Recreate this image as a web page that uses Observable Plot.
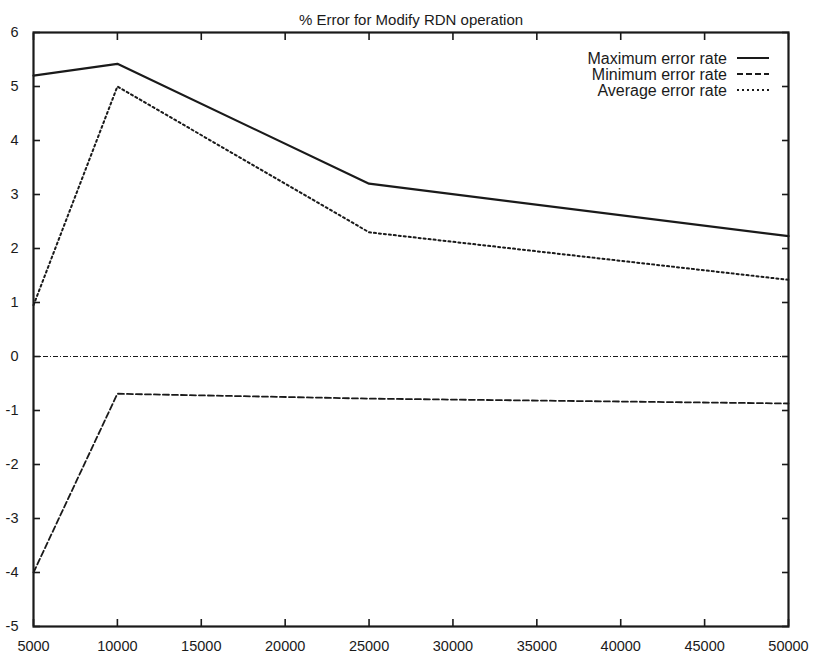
<!DOCTYPE html>
<html>
<head>
<meta charset="utf-8">
<script src="https://cdn.jsdelivr.net/npm/d3@7"></script>
<script src="https://cdn.jsdelivr.net/npm/@observablehq/plot@0.6"></script>
<style>
  html, body { margin: 0; padding: 0; background: #fff; }
  #chart svg { display: block; }
  #chart g[aria-label="x-axis tick label"], #chart g[aria-label="y-axis tick label"] { font-size: 14.5px; }
</style>
</head>
<body>
<div id="chart"></div>
<script>
const titleText = "% Error for Modify RDN operation";
const entries = [5000, 10000, 25000, 50000];
const maxErr = [5.2, 5.42, 3.2, 2.23];
const minErr = [-4.0, -0.69, -0.78, -0.87];
const avgErr = [0.95, 5.0, 2.3, 1.42];
const xTicks = [5000, 10000, 15000, 20000, 25000, 30000, 35000, 40000, 45000, 50000];
const yTicks = [-5, -4, -3, -2, -1, 0, 1, 2, 3, 4, 5, 6];
const seriesNames = ["Maximum error rate", "Minimum error rate", "Average error rate"];
const seriesDash = [null, "6,3", "2,3"];

const rows = (vals) => entries.map((x, i) => ({x, y: vals[i]}));
const ink = "#1a1a1a";
const font = "'Liberation Sans', Arial, sans-serif";

const plot = Plot.plot({
  width: 817,
  height: 657,
  marginLeft: 33,
  marginRight: 29,
  marginTop: 32,
  marginBottom: 31,
  style: {fontFamily: font, fontSize: "14px", color: ink, background: "#fff"},
  x: {domain: [5000, 50000], label: null},
  y: {domain: [-5, 6], label: null},
  marks: [
    Plot.ruleY([0], {stroke: ink, strokeWidth: 1.2, strokeDasharray: "5,2,1,2"}),
    Plot.line(rows(maxErr), {x: "x", y: "y", stroke: ink, strokeWidth: 2.2}),
    Plot.line(rows(minErr), {x: "x", y: "y", stroke: ink, strokeWidth: 1.8, strokeDasharray: seriesDash[1]}),
    Plot.line(rows(avgErr), {x: "x", y: "y", stroke: ink, strokeWidth: 2, strokeDasharray: seriesDash[2]}),
    // inward tick marks (gnuplot style, mirrored on all sides)
    Plot.axisX({ticks: xTicks, anchor: "bottom", tickSize: 7, dy: -7, text: null, stroke: ink, strokeWidth: 1.6}),
    Plot.axisX({ticks: xTicks, anchor: "top", tickSize: 7, dy: 7, text: null, stroke: ink, strokeWidth: 1.6}),
    Plot.axisY({ticks: yTicks, anchor: "left", tickSize: 7, dx: 7, text: null, stroke: ink, strokeWidth: 1.6}),
    Plot.axisY({ticks: yTicks, anchor: "right", tickSize: 7, dx: -7, text: null, stroke: ink, strokeWidth: 1.6}),
    Plot.axisX({ticks: xTicks, anchor: "bottom", tickSize: 0, tickPadding: 14, tickFormat: d => String(d), fill: ink}),
    Plot.axisY({ticks: yTicks, anchor: "left", tickSize: 0, tickPadding: 15, tickFormat: d => String(d), fill: ink}),
    Plot.frame({stroke: ink, strokeWidth: 2.2}),
    Plot.text([titleText], {frameAnchor: "top", dy: -18, fontSize: 15, fill: ink})
  ]
});

// Legend (layout only, in pixel space)
const svg = d3.select(plot);
svg.selectAll('g[aria-label="x-axis tick label"], g[aria-label="y-axis tick label"]').attr("font-size", 14.5);
const lg = svg.append("g").attr("font-family", font).attr("font-size", 16).attr("fill", ink);
seriesNames.forEach((name, i) => {
  const y = 58 + i * 16;
  lg.append("text").attr("x", 727).attr("y", y).attr("dy", "0.35em").attr("text-anchor", "end").text(name);
  const ln = lg.append("line").attr("x1", 737).attr("x2", 769).attr("y1", y).attr("y2", y)
    .attr("stroke", ink).attr("stroke-width", i === 0 ? 2 : 1.8);
  if (seriesDash[i]) ln.attr("stroke-dasharray", seriesDash[i]);
});

document.getElementById("chart").appendChild(plot);
</script>
</body>
</html>
